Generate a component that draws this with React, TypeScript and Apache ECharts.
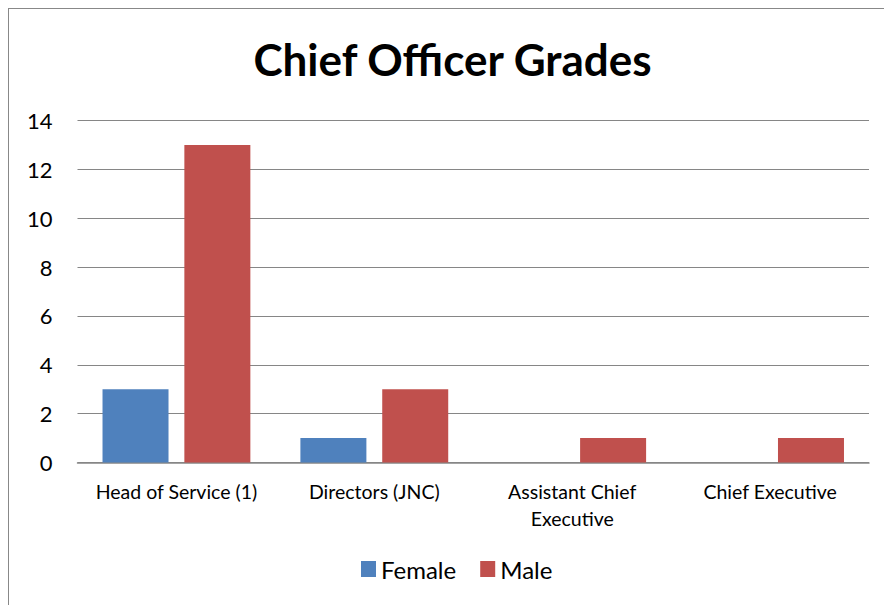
import React, { useEffect, useRef } from "react";
import * as echarts from "echarts";

const categories = ["Head of Service (1)", "Directors (JNC)", "Assistant Chief\nExecutive", "Chief Executive"];
const female = [3, 1, 0, 0];
const male = [13, 3, 1, 1];

export default function App() {
  const ref = useRef<HTMLDivElement>(null);
  useEffect(() => {
    document.body.style.margin = "0";
    const chart = echarts.init(ref.current!, null, { renderer: "svg" });
    const font = "Lato, 'Open Sans', sans-serif";
    chart.setOption({
      animation: false,
      backgroundColor: "#ffffff",
      title: {
        text: "Chief Officer Grades",
        left: "center",
        top: 23,
        textStyle: { fontFamily: font, fontSize: 44, fontWeight: "bold", color: "#000" },
      },
      legend: {
        top: 543,
        left: 347,
        itemWidth: 15,
        itemHeight: 16,
        itemGap: 24,
        icon: "rect",
        textStyle: { fontFamily: font, fontSize: 24, color: "#000" },
        data: ["Female", "Male"],
      },
      grid: { left: 68.5, right: 27, top: 111.5, bottom: 156.5, containLabel: false },
      xAxis: {
        type: "category",
        data: categories,
        axisLine: { lineStyle: { color: "#868686", width: 1.5 } },
        axisTick: { show: false },
        axisLabel: {
          interval: 0,
          margin: 15,
          fontFamily: font,
          fontSize: 19.5,
          color: "#000",
          lineHeight: 27,
        },
      },
      yAxis: {
        type: "value",
        min: 0,
        max: 14,
        interval: 2,
        axisLine: { show: false },
        axisTick: { show: false },
        axisLabel: { margin: 25, fontFamily: font, fontSize: 22, color: "#000" },
        splitLine: { lineStyle: { color: "#868686", width: 1.2 } },
      },
      series: [
        {
          name: "Female",
          type: "bar",
          data: female,
          barWidth: 66,
          barGap: "24%",
          itemStyle: { color: "#4F81BD" },
        },
        {
          name: "Male",
          type: "bar",
          data: male,
          barWidth: 66,
          itemStyle: { color: "#C0504D" },
        },
      ],
    });
    return () => chart.dispose();
  }, []);
  return (
    <div style={{ width: 884, height: 605, paddingLeft: 8, paddingTop: 8, boxSizing: "border-box", overflow: "hidden", background: "#fff" }}>
      <div
        style={{
          width: 874.5,
          height: 595.5,
          overflow: "hidden",
          borderLeft: "1.5px solid #888",
          borderTop: "1.5px solid #888",
          position: "relative",
        }}
      >
        <div ref={ref} style={{ width: 887, height: 610 }} />
      </div>
    </div>
  );
}
